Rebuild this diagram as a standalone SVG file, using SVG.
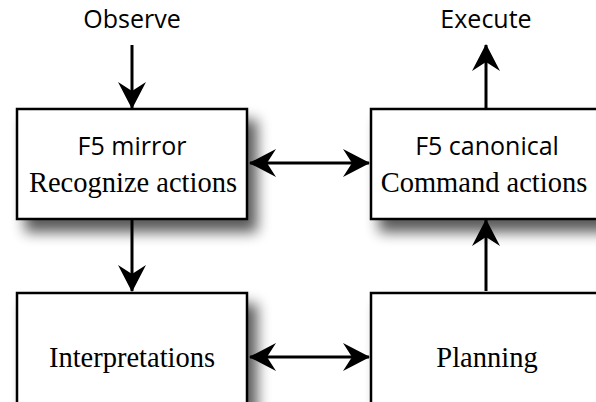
<svg xmlns="http://www.w3.org/2000/svg" width="596" height="402" viewBox="0 0 596 402">
<defs>
<filter id="sh" x="-20%" y="-20%" width="150%" height="160%">
<feGaussianBlur in="SourceAlpha" stdDeviation="7"/>
<feOffset dx="9" dy="12" result="b"/>
<feComponentTransfer><feFuncA type="linear" slope="0.65"/></feComponentTransfer>
<feMerge><feMergeNode/><feMergeNode in="SourceGraphic"/></feMerge>
</filter>
<marker id="ah" viewBox="0 0 27 28" markerWidth="27" markerHeight="28" refX="26" refY="14" orient="auto-start-reverse" markerUnits="userSpaceOnUse">
<path d="M0,0 L27,14 L0,28 L9,14 Z" fill="#000"/>
</marker>
</defs>
<style>
.box{fill:#fff;stroke:#000;stroke-width:2.5}
.c{stroke:#000;stroke-width:3;fill:none}
.sans{font-family:"Open Sans","DejaVu Sans",sans-serif;font-size:25px;text-anchor:middle}
.serif{font-family:"Liberation Serif",serif;font-size:28.5px;text-anchor:middle}
</style>
<rect width="596" height="402" fill="#fff"/>
<text class="sans" x="132" y="28">Observe</text>
<text class="sans" x="486" y="28">Execute</text>
<g id="mirror">
<rect class="box" x="17" y="109" width="230" height="110" filter="url(#sh)"/>
<text class="sans" x="132" y="155">F5 mirror</text>
<text class="serif" x="133" y="192">Recognize actions</text>
</g>
<g id="canonical">
<rect class="box" x="371" y="109" width="232" height="110" filter="url(#sh)"/>
<text class="sans" x="487" y="155">F5 canonical</text>
<text class="serif" x="484" y="192">Command actions</text>
</g>
<g id="interpretations">
<rect class="box" x="17" y="293" width="230" height="120" filter="url(#sh)"/>
<text class="serif" x="132" y="367">Interpretations</text>
</g>
<g id="planning">
<rect class="box" x="371" y="293" width="232" height="120" filter="url(#sh)"/>
<text class="serif" x="487" y="367">Planning</text>
</g>
<g id="connectors">
<line class="c" x1="132" y1="45" x2="132" y2="108" marker-end="url(#ah)"/>
<line class="c" x1="486" y1="108" x2="486" y2="45" marker-end="url(#ah)"/>
<line class="c" x1="250" y1="163" x2="369" y2="163" marker-start="url(#ah)" marker-end="url(#ah)"/>
<line class="c" x1="132" y1="220" x2="132" y2="291" marker-end="url(#ah)"/>
<line class="c" x1="486" y1="291" x2="486" y2="220" marker-end="url(#ah)"/>
<line class="c" x1="250" y1="357" x2="369" y2="357" marker-start="url(#ah)" marker-end="url(#ah)"/>
</g>
</svg>
